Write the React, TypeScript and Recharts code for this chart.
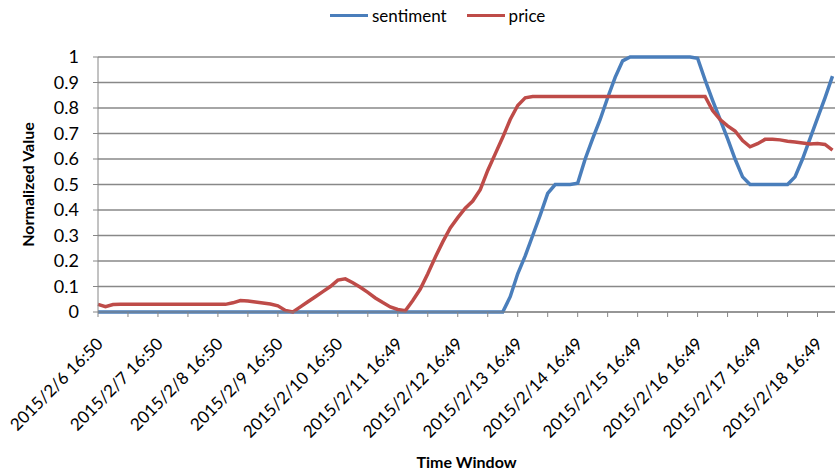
import { LineChart, Line, XAxis, YAxis, CartesianGrid, Legend } from "recharts";

// hours since 2015/2/6 16:50, one sample every 3 hours
const hours = [
  0, 3, 6, 9, 12, 15, 18, 21, 24, 27, 30, 33, 36, 39, 42, 45, 48, 51, 54, 57,
  60, 63, 66, 69, 72, 75, 78, 81, 84, 87, 90, 93, 96, 99, 102, 105, 108, 111,
  114, 117, 120, 123, 126, 129, 132, 135, 138, 141, 144, 147, 150, 153, 156,
  159, 162, 165, 168, 171, 174, 177, 180, 183, 186, 189, 192, 195, 198, 201,
  204, 207, 210, 213, 216, 219, 222, 225, 228, 231, 234, 237, 240, 243, 246,
  249, 252, 255, 258, 261, 264, 267, 270, 273, 276, 279, 282, 285, 288, 291,
  294,
];

const sentiment = [
  0, 0, 0, 0,
  0, 0, 0, 0,
  0, 0, 0, 0,
  0, 0, 0, 0,
  0, 0, 0, 0,
  0, 0, 0, 0,
  0, 0, 0, 0,
  0, 0, 0, 0,
  0, 0, 0, 0,
  0, 0, 0, 0,
  0, 0, 0, 0,
  0, 0, 0, 0,
  0, 0, 0, 0,
  0, 0, 0, 0.06,
  0.15, 0.22, 0.3, 0.38,
  0.465, 0.5, 0.5, 0.5,
  0.505, 0.6, 0.68, 0.755,
  0.84, 0.92, 0.985, 1,
  1, 1, 1, 1,
  1, 1, 1, 1,
  0.995, 0.91, 0.83, 0.755,
  0.68, 0.6, 0.53, 0.5,
  0.5, 0.5, 0.5, 0.5,
  0.5, 0.53, 0.6, 0.68,
  0.76, 0.84, 0.925,
];

const price = [
  0.03, 0.021, 0.029, 0.03,
  0.03, 0.03, 0.03, 0.03,
  0.03, 0.03, 0.03, 0.03,
  0.03, 0.03, 0.03, 0.03,
  0.03, 0.03, 0.036, 0.045,
  0.043, 0.039, 0.035, 0.031,
  0.024, 0.006, 0, 0.02,
  0.04, 0.06, 0.08, 0.1,
  0.125, 0.13, 0.115, 0.097,
  0.077, 0.055, 0.037, 0.02,
  0.01, 0.005, 0.045, 0.09,
  0.15, 0.215, 0.275, 0.33,
  0.37, 0.407, 0.435, 0.48,
  0.555, 0.62, 0.685, 0.755,
  0.81, 0.84, 0.845, 0.845,
  0.845, 0.845, 0.845, 0.845,
  0.845, 0.845, 0.845, 0.845,
  0.845, 0.845, 0.845, 0.845,
  0.845, 0.845, 0.845, 0.845,
  0.845, 0.845, 0.845, 0.845,
  0.845, 0.845, 0.79, 0.755,
  0.73, 0.71, 0.672, 0.648,
  0.66, 0.677, 0.677, 0.675,
  0.67, 0.667, 0.663, 0.659,
  0.661, 0.657, 0.635,
];

const dayLabels = [
  "2015/2/6 16:50",
  "2015/2/7 16:50",
  "2015/2/8 16:50",
  "2015/2/9 16:50",
  "2015/2/10 16:50",
  "2015/2/11 16:49",
  "2015/2/12 16:49",
  "2015/2/13 16:49",
  "2015/2/14 16:49",
  "2015/2/15 16:49",
  "2015/2/16 16:49",
  "2015/2/17 16:49",
  "2015/2/18 16:49",
];

const xTicks = [
  0, 12, 24, 36, 48, 60, 72, 84, 96, 108, 120, 132, 144, 156, 168, 180, 192,
  204, 216, 228, 240, 252, 264, 276, 288,
];
const yTicks = [0, 0.1, 0.2, 0.3, 0.4, 0.5, 0.6, 0.7, 0.8, 0.9, 1];

const seriesOrder = ["sentiment", "price"];

const data = hours.map((h, i) => ({
  h,
  sentiment: sentiment[i],
  price: price[i],
}));

const FONT = "Lato, 'Open Sans', sans-serif";
const AXIS = "#868686";

const DateTick = (props: any) => {
  const { x, y, payload } = props;
  const v = payload.value as number;
  if (v % 24 !== 0) return <g />;
  return (
    <g transform={`translate(${x + 6},${y + 26}) rotate(-45)`}>
      <text x={0} y={0} textAnchor="end" fontSize={17} fontFamily={FONT} fill="#000">
        {dayLabels[v / 24]}
      </text>
    </g>
  );
};

const LegendRow = (props: any) => {
  const items = [...(props.payload || [])].sort(
    (a: any, b: any) =>
      seriesOrder.indexOf(a.dataKey) - seriesOrder.indexOf(b.dataKey)
  );
  return (
    <div
      style={{
        display: "flex",
        paddingLeft: 330,
        fontFamily: FONT,
        fontSize: 17,
        color: "#000",
      }}
    >
      {items.map((e: any) => (
        <div
          key={e.value}
          style={{ display: "flex", alignItems: "center", marginRight: 20 }}
        >
          <span
            style={{
              display: "inline-block",
              width: 38,
              height: 3.5,
              background: e.color,
              marginRight: 4,
            }}
          />
          <span>{e.value}</span>
        </div>
      ))}
    </div>
  );
};

export default function App() {
  return (
    <div style={{ width: 835, height: 475, background: "#fff" }}>
      <style>{"body{margin:0}"}</style>
      <LineChart
        width={835}
        height={475}
        data={data}
        margin={{ top: 36, right: 0, bottom: 0, left: 0 }}
      >
        <CartesianGrid vertical={false} stroke="#888888" strokeWidth={1.3} />
        <XAxis
          dataKey="h"
          type="number"
          domain={[0, 295]}
          ticks={xTicks}
          interval={0}
          height={163}
          tickSize={5}
          stroke={AXIS}
          tickLine={{ stroke: AXIS }}
          tick={<DateTick />}
          label={{
            value: "Time Window",
            position: "insideBottom",
            offset: 7,
            style: { fontFamily: FONT, fontSize: 16, fontWeight: 700, fill: "#000" },
          }}
        />
        <YAxis
          width={98}
          domain={[0, 1]}
          ticks={yTicks}
          interval={0}
          tickSize={5}
          tickMargin={14}
          stroke={AXIS}
          tick={{ fontFamily: FONT, fontSize: 18, fill: "#000" }}
          label={{
            value: "Normalized Value",
            angle: -90,
            position: "insideLeft",
            offset: 28,
            style: {
              textAnchor: "middle",
              fontFamily: FONT,
              fontSize: 16,
              fontWeight: 700,
              fill: "#000",
            },
          }}
        />
        <Legend
          verticalAlign="top"
          content={<LegendRow />}
          wrapperStyle={{ top: 5, left: 0, width: 835 }}
        />
        <Line
          type="linear"
          dataKey="sentiment"
          name="sentiment"
          stroke="#4a7ebb"
          strokeWidth={3.5}
          dot={false}
          isAnimationActive={false}
        />
        <Line
          type="linear"
          dataKey="price"
          name="price"
          stroke="#be4b48"
          strokeWidth={3.5}
          dot={false}
          isAnimationActive={false}
        />
      </LineChart>
    </div>
  );
}
